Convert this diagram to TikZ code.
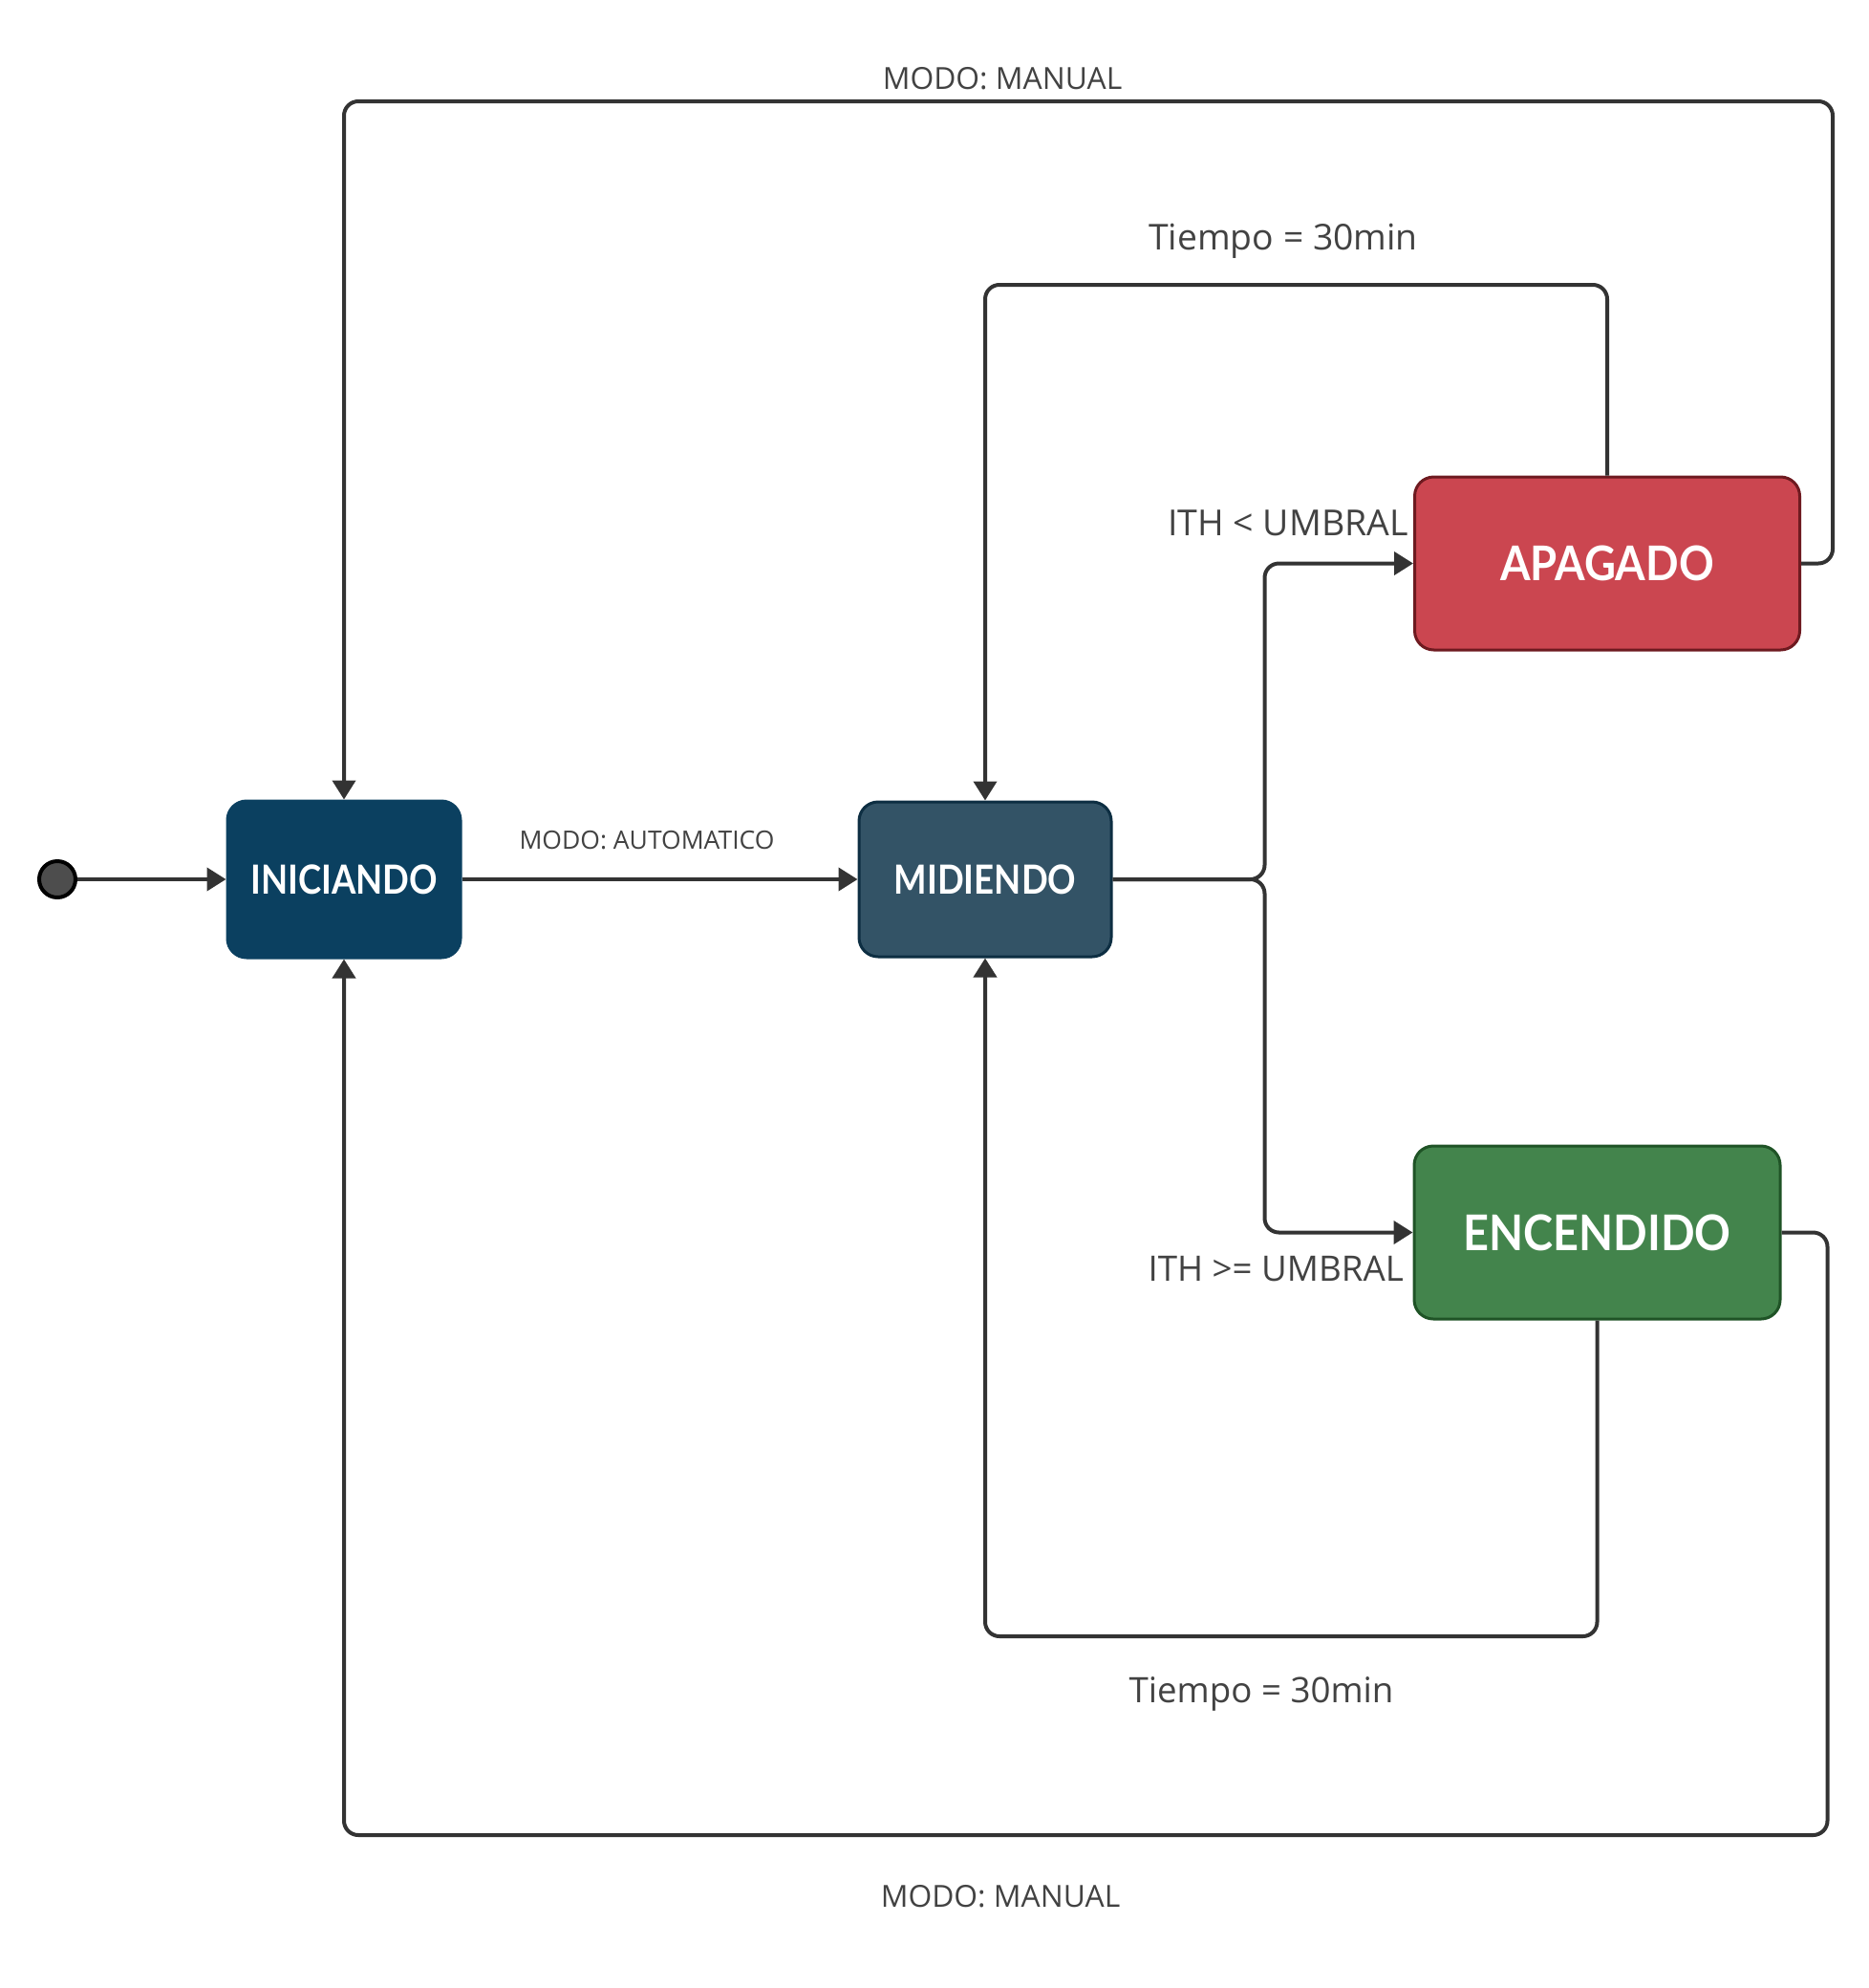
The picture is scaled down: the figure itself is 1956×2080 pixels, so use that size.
\documentclass[tikz,border=0pt]{standalone}
\usepackage{fontspec}
\usepackage{graphicx}
\setmainfont{Open Sans}
\newfontfamily\nodefont{Lato}
\usetikzlibrary{arrows.meta}
\definecolor{lineC}{HTML}{333333}
\definecolor{labC}{HTML}{424242}
\definecolor{iniF}{HTML}{0B4060}
\definecolor{midF}{HTML}{335366}
\definecolor{midD}{HTML}{0D2E42}
\definecolor{apaF}{HTML}{CB4650}
\definecolor{apaD}{HTML}{6E1A20}
\definecolor{encF}{HTML}{43844C}
\definecolor{encD}{HTML}{1F5326}
\definecolor{initF}{HTML}{4D4D4D}
\newcommand{\stxt}[3]{{\fontsize{#1}{#1}\selectfont\scalebox{#2}[1]{#3}}}
\tikzset{
  statebox/.style={rectangle, rounded corners=20pt, line width=3pt, inner sep=0pt, text=white, font=\nodefont\bfseries},
  conn/.style={draw=lineC, line width=4pt, rounded corners=15pt, -{Triangle[length=20pt,width=24pt]}},
  lab/.style={text=labC, inner sep=0pt, anchor=base},
}
\begin{document}
\begin{tikzpicture}[x=1pt,y=-1pt]
\useasboundingbox (0,0) rectangle (1956,2080);
\coordinate (yA) at (0,106);
\coordinate (yB) at (0,298);
\coordinate (yC) at (0,1712);
\coordinate (yD) at (0,1920);

\node[circle, draw=black, fill=initF, line width=4pt, minimum size=38pt, inner sep=0pt] (init) at (60,920) {};
\node[statebox, fill=iniF, draw=iniF, minimum width=244pt, minimum height=164pt] (INI) at (360,920) {\stxt{42}{0.87}{INICIANDO}};
\node[statebox, fill=midF, draw=midD, minimum width=264pt, minimum height=162pt] (MID) at (1031,920) {\stxt{42}{0.87}{MIDIENDO}};
\node[statebox, fill=apaF, draw=apaD, minimum width=403pt, minimum height=181pt] (APA) at (1682,589.5) {\stxt{50}{0.91}{APAGADO}};
\node[statebox, fill=encF, draw=encD, minimum width=383pt, minimum height=181pt] (ENC) at (1671.5,1289.5) {\stxt{51.5}{0.91}{ENCENDIDO}};

\draw[conn] (init) -- (INI.west);
\draw[conn] (INI.east) -- (MID.west);
\draw[conn] (MID.east) -- ++(159,0) |- (APA.west);
\draw[conn] (MID.east) -- ++(159,0) |- (ENC.west);
\draw[conn] (APA.north) |- (MID.north |- yB) -- (MID.north);
\draw[conn] (ENC.south) |- (MID.south |- yC) -- (MID.south);
\draw[conn] (APA.east) -- ++(33,0) |- (INI.north |- yA) -- (INI.north);
\draw[conn] (ENC.east) -- ++(48,0) |- (INI.south |- yD) -- (INI.south);

\node[lab, font=\fontsize{26.5}{30}\selectfont] (lAuto) at (677,888) {MODO: AUTOMATICO};
\node[lab, font=\fontsize{31.8}{36}\selectfont] (lManTop) at (1049,93) {MODO: MANUAL};
\node[lab, font=\fontsize{37.3}{42}\selectfont] (lTiempoTop) at (1343,261) {Tiempo = 30min};
\node[lab, anchor=base east, font=\fontsize{37.5}{42}\selectfont] (lLess) at (1474,560) {ITH < UMBRAL};
\node[lab, anchor=base east, font=\fontsize{36.7}{42}\selectfont] (lGeq) at (1469,1340) {ITH >= UMBRAL};
\node[lab, font=\fontsize{36.7}{42}\selectfont] (lTiempoBot) at (1320,1781) {Tiempo = 30min};
\node[lab, font=\fontsize{31.8}{36}\selectfont] (lManBot) at (1047,1995) {MODO: MANUAL};
\end{tikzpicture}
\end{document}
